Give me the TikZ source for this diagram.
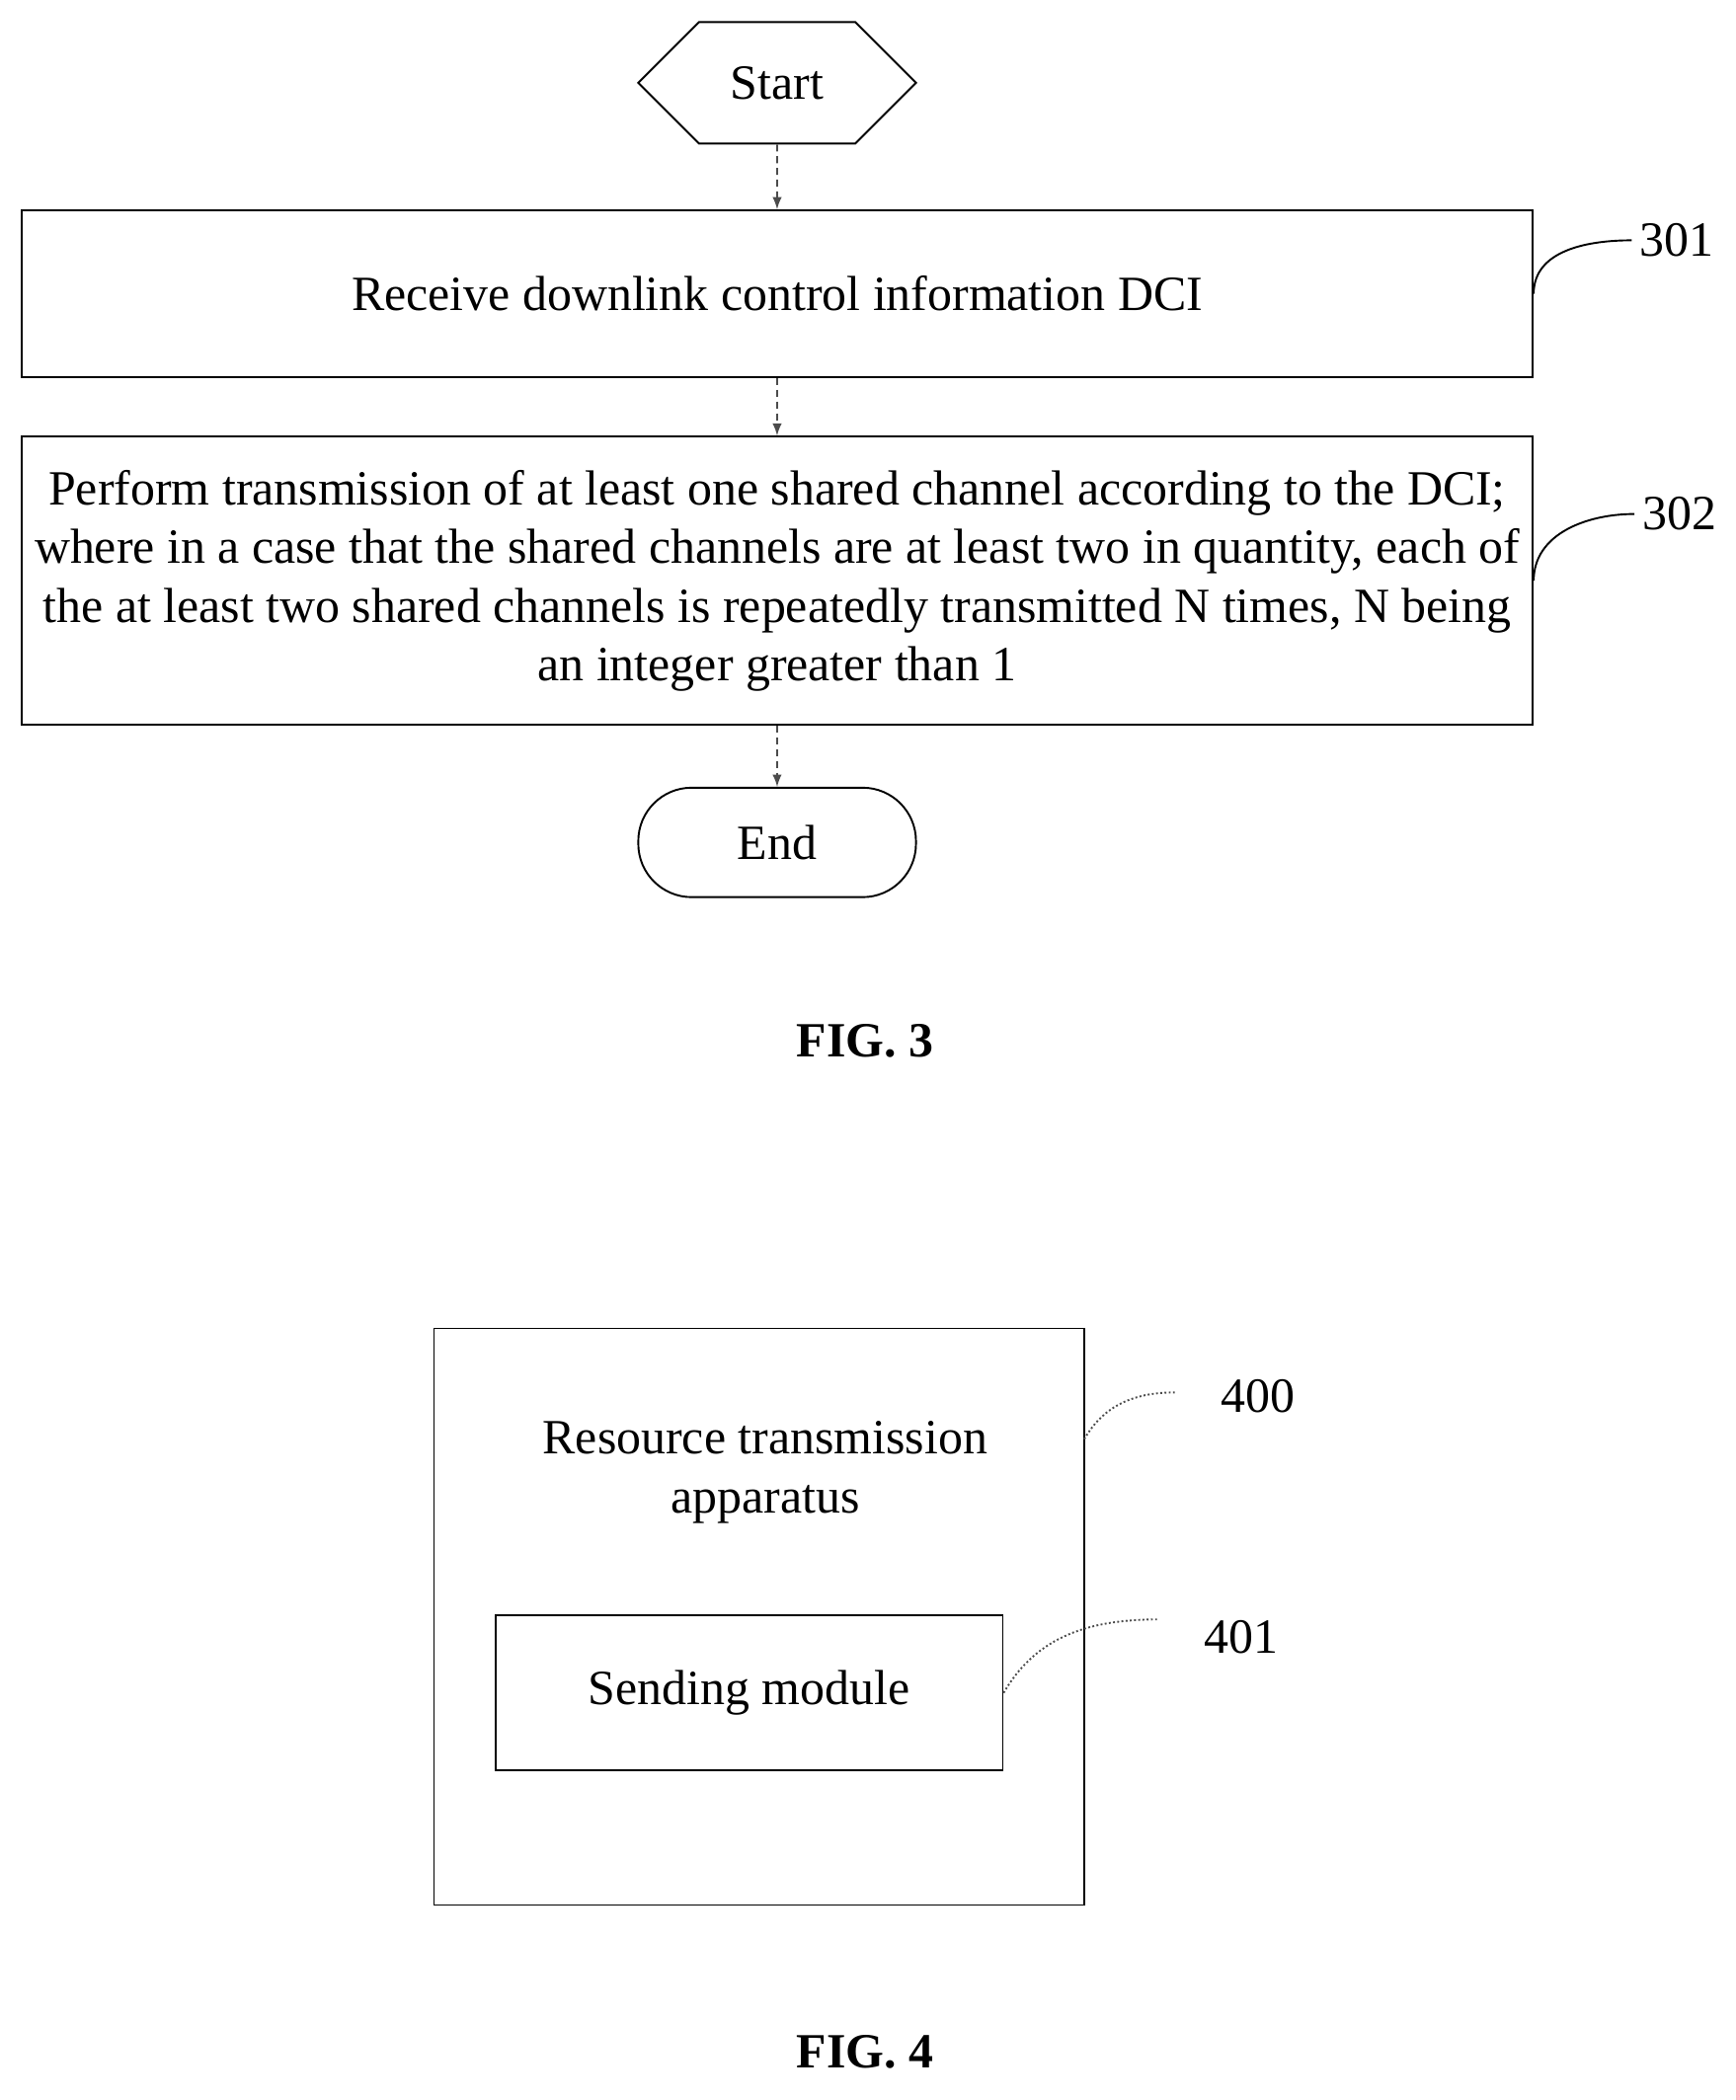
\documentclass[tikz,border=0pt]{standalone}
\usepackage{fontspec}
\setmainfont{Liberation Serif}
\usetikzlibrary{shapes.symbols,arrows.meta}
\tikzset{>=latex}
\tikzset{stage/.style = {draw, thick, minimum width=22.64cm, align=center, font=\fontsize{21}{25}\selectfont},
         term/.style = {draw, thick, minimum width=4.16cm, minimum height=1.64cm, font=\fontsize{21}{25}\selectfont},
         tag/.style = {font=\fontsize{21}{25}\selectfont},
         flow/.style = {->, thick, gray!60!black, densely dashed},
         lead/.style = {thick}}
\begin{document}
\begin{tikzpicture}[x=0.02cm,y=-0.02cm]
                \useasboundingbox (0,0) rectangle (1300,1573);
                \node[term, shape=signal, signal to=east and west, minimum height=1.82cm] (S) at (582,62) {Start};
                \node[stage, minimum height=2.5cm] (A) at (582,220) {Receive downlink control information DCI};
                \node[stage, minimum height=4.32cm] (B) at (582,435) {Perform transmission of at least one shared channel according to the DCI;\\ where in a case that the shared channels are at least two in quantity, each of\\ the at least two shared channels is repeatedly transmitted N times, N being\\ an integer greater than 1};
                \node[term, rounded corners=0.8cm] (E) at (582,631) {End};
                \node[tag, anchor=west] (tA) at (1222,180) {301};
                \node[tag, anchor=west] (tB) at (1224,385) {302};
                \node[font=\fontsize{21}{25}\selectfont\bfseries] (f3) at (648,780) {FIG. 3};

                \draw[flow] (S) -- (A);
                \draw[flow] (A) -- (B);
                \draw[flow] (B) -- (E);
                \draw[lead] (A.east) to[out=90,in=180] (tA.west);
                \draw[lead] (B.east) to[out=90,in=180] (tB.west);

                \node[draw, thick, minimum width=9.74cm, minimum height=8.64cm] (R) at (568.5,1211) {};
                \node[tag, align=center] (Rt) at (573,1103) {Resource transmission\\ apparatus};
                \node[draw, thick, tag, minimum width=7.6cm, minimum height=2.32cm] (M) at (561,1268) {Sending module};
                \node[tag, anchor=west] (t4) at (908,1046) {400};
                \node[tag, anchor=west] (t41) at (896,1226) {401};
                \coordinate (c4) at (880,1043);
                \coordinate (c41) at (868,1213);
                \coordinate (r4) at (812,1078);
                \node[font=\fontsize{21}{25}\selectfont\bfseries] (f4) at (648,1537) {FIG. 4};

                \draw[lead, gray!60!black, densely dotted] (r4) to[out=60,in=180] (c4);
                \draw[lead, gray!60!black, densely dotted] (M.east) to[out=60,in=180] (c41);
            \end{tikzpicture}
\end{document}
